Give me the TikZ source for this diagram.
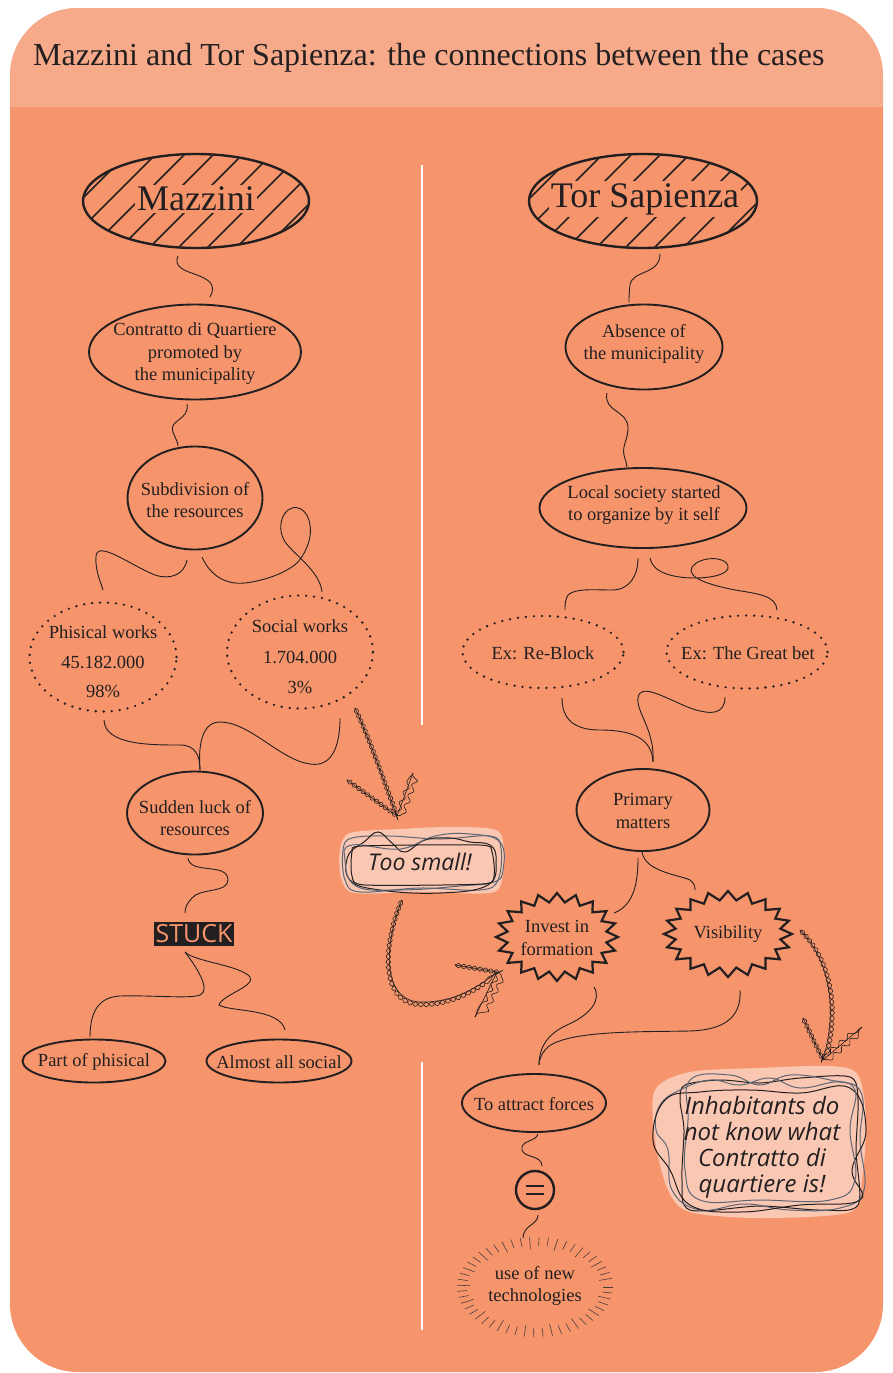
\documentclass[tikz,border=0pt]{standalone}
\usepackage{fontspec}
\setmainfont{Liberation Serif}
\newfontfamily\stuckfont{Open Sans}
\newfontfamily\handfont{Open Sans}
\usetikzlibrary{shapes.geometric,calc,decorations.pathmorphing}
\definecolor{bgmain}{RGB}{246,149,108}
\definecolor{bghead}{RGB}{247,170,138}
\definecolor{ink}{RGB}{35,31,32}
\definecolor{blob}{RGB}{251,205,186}
\definecolor{scrib}{RGB}{92,102,116}
\definecolor{tickc}{RGB}{75,62,60}
\tikzset{
 ell/.style 2 args={ellipse, draw=ink, line width=1.9pt, minimum width=#1, minimum height=#2, inner sep=0pt},
 dotell/.style 2 args={ellipse, draw=ink, line width=2.6pt, dash pattern=on 0pt off 8pt, line cap=round, minimum width=#1, minimum height=#2, inner sep=0pt},
 hatchell/.style 2 args={ellipse, draw=ink, line width=2.4pt, minimum width=#1, minimum height=#2, inner sep=0pt},
 shapeonly/.style 2 args={ellipse, minimum width=#1, minimum height=#2, inner sep=0pt},
 txt/.style={font=\fontsize{18.5}{22.5}\selectfont, align=center, text=ink, inner sep=0pt},
 bigtxt/.style={font=\fontsize{36}{40}\selectfont, text=ink, fill=bgmain, inner sep=2pt},
 conn/.style={draw=ink, line width=0.9pt},
 starline/.style={draw=ink, line width=2.2pt, line join=miter},
 hatchline/.style={draw=ink, line width=1.5pt},
 rope/.style={draw=ink, line width=0.6pt,
   postaction={draw=ink, line width=0.6pt, decorate, decoration={snake, amplitude=2.2pt, segment length=11pt}},
   postaction={draw=ink, line width=0.6pt, decorate, decoration={snake, amplitude=2.2pt, segment length=11pt, mirror}}},
 handtxt/.style={font=\handfont\itshape\fontsize{23}{26}\selectfont, text=ink, align=center, inner sep=0pt},
 scribdark/.style={draw=ink, line width=1pt},
 scribgray/.style={draw=scrib, line width=1pt},
 raytick/.style={draw=tickc, line width=0.6pt},
}
\begin{document}
\begin{tikzpicture}[x=1pt,y=-1pt]
\useasboundingbox (0,0) rectangle (893,1373);
\fill[white] (0,0) rectangle (893,1373);
\fill[bgmain, rounded corners=68pt] (10,8) rectangle (883,1372);
\begin{scope}
 \clip[rounded corners=68pt] (10,8) rectangle (883,1372);
 \fill[bghead] (10,8) rectangle (883,107);
\end{scope}
\node[anchor=base west, font=\fontsize{32}{38}\selectfont, text=ink, inner sep=0pt] (title) at (33,65) {Mazzini and Tor Sapienza: the connections between the cases};
% dividers
\draw[white, line width=2.5pt] (422,165) -- (422,725);
\draw[white, line width=2.5pt] (422,1062) -- (422,1330);

% hatched ellipses
\node[hatchell={226pt}{94pt}] (mz) at (196,201) {};
\begin{scope}
 \clip (196,201) ellipse [x radius=112, y radius=46];
 \foreach \k in {-6,...,6} \draw[hatchline] ($(mz.center)+(\k*29-70,70)$) -- ++(140,-140);
\end{scope}
\node[bigtxt] (mzt) at (196,199) {Mazzini};

\node[hatchell={228pt}{94pt}] (ts) at (643,201) {};
\begin{scope}
 \clip (643,201) ellipse [x radius=113, y radius=46];
 \foreach \k in {-6,...,6} \draw[hatchline] ($(ts.center)+(\k*29-70,70)$) -- ++(140,-140);
\end{scope}
\node[bigtxt] (tst) at (645,199) {Tor Sapienza};

% left column
\node[ell={212pt}{95pt}] (con) at (195,352) {};
\node[txt] (con-t) at (195,354) {Contratto di Quartiere\\promoted by\\the municipality};
\node[ell={135pt}{103pt}] (sub) at (195,498) {};
\node[txt] (sub-t) at (195,500) {Subdivision of\\the resources};
\node[dotell={147pt}{109pt}] (phy) at (103,657) {};
\node[txt, font=\fontsize{18.5}{29.5}\selectfont] (phy-t) at (103,662) {Phisical works\\45.182.000\\98\%};
\node[dotell={146pt}{113pt}] (soc) at (300,652) {};
\node[txt, font=\fontsize{18.5}{30.5}\selectfont] (soc-t) at (300,657) {Social works\\1.704.000\\3\%};
\node[ell={136pt}{83pt}] (sud) at (195,813) {};
\node[txt] (sud-t) at (195,818) {Sudden luck of\\resources};
\node[fill=ink, text=bgmain, font=\stuckfont\fontsize{25}{25}\selectfont, inner xsep=2pt, inner ysep=3pt] (stuck) at (194,934) {STUCK};
\node[ell={143pt}{43pt}] (part) at (94,1061) {};
\node[txt] (part-t) at (94,1062) {Part of phisical};
\node[ell={145pt}{43pt}] (alm) at (279,1061) {};
\node[txt] (alm-t) at (279,1062) {Almost all social};

% right column
\node[ell={157pt}{85pt}] (abs) at (644,347) {};
\node[txt] (abs-t) at (644,344) {Absence of\\the municipality};
\node[ell={207pt}{80pt}] (loc) at (643,508) {};
\node[txt] (loc-t) at (644,505) {Local society started\\to organize by it self};
\node[dotell={161pt}{72pt}] (reb) at (543,652) {};
\node[txt] (reb-t) at (543,653) {Ex: Re-Block};
\node[dotell={161pt}{73pt}] (gb) at (747,652) {};
\node[txt] (gb-t) at (748,653) {Ex: The Great bet};
\node[ell={133pt}{82pt}] (prim) at (643,810) {};
\node[txt] (prim-t) at (643,811) {Primary\\matters};

\node[shapeonly={122pt}{88pt}] (inv) at (557,937) {};
\begin{scope}[shift={(inv.center)}]
 \draw[starline] (0:61 and 44) \foreach \a in {0,18,...,342} { -- (\a+9:50 and 35) -- (\a+18:61 and 44) } -- cycle;
\end{scope}
\node[txt] (inv-t) at (557,938) {Invest in\\formation};
\node[shapeonly={128pt}{86pt}] (vis) at (728,934) {};
\begin{scope}[shift={(vis.center)}]
 \draw[starline] (0:64 and 43) \foreach \a in {0,18,...,342} { -- (\a+9:53 and 34) -- (\a+18:64 and 43) } -- cycle;
\end{scope}
\node[txt] (vis-t) at (728,934) {Visibility};

\node[ell={144pt}{58pt}] (att) at (534,1103) {};
\node[txt] (att-t) at (534,1104) {To attract forces};
\node[circle, draw=ink, line width=2.4pt, minimum size=38pt, inner sep=0pt] (eq) at (535,1190) {};
\draw[ink, line width=2.4pt] ($(eq.center)+(-9,-4)$) -- ($(eq.center)+(9,-4)$);
\draw[ink, line width=2.4pt] ($(eq.center)+(-9,4)$) -- ($(eq.center)+(9,4)$);
\node[shapeonly={156pt}{100pt}] (use) at (535,1287) {};
\begin{scope}[shift={(use.center)}]
 \foreach \a [count=\i] in {0,7,...,356} {
   \pgfmathsetmacro{\rinx}{ifthenelse(mod(\i,3)==0,65,68)}
   \pgfmathsetmacro{\riny}{\rinx-27}
   \draw[raytick] (\a:{\rinx} and {\riny}) -- (\a:78 and 50);
 }
\end{scope}
\node[txt] (use-t) at (535,1286) {use of new\\technologies};

% connectors left
\draw[conn] ($(mz.center)+(-18,55)$) .. controls (168,278) and (225,270) .. ($(con.center)+(15,-55)$);
\draw[conn] ($(con.center)+(-8,52)$) .. controls (190,420) and (168,420) .. (173,432) .. controls (176,440) and (178,442) .. ($(sub.center)+(-17,-52)$);
\draw[conn] ($(sub.center)+(-8,62)$) .. controls (184,575) and (170,580) .. (155,575) .. controls (130,565) and (98,540) .. (96,556) .. controls (95,570) and (100,580) .. ($(phy.center)+(0,-67)$);
\draw[conn] ($(sub.center)+(7,59)$) .. controls (210,575) and (225,585) .. (245,583) .. controls (270,580) and (290,570) .. (298,562) .. controls (308,550) and (312,535) .. (310,525) .. controls (308,510) and (298,506) .. (292,508) .. controls (280,512) and (278,530) .. (284,540) .. controls (290,552) and (320,570) .. ($(soc.center)+(22,-60)$);
\draw[conn] ($(phy.center)+(1,63)$) .. controls (105,745) and (150,745) .. (180,745) .. controls (195,745) and (200,755) .. ($(sud.center)+(5,-43)$);
\draw[conn] ($(soc.center)+(40,66)$) .. controls (340,740) and (335,768) .. (310,764) .. controls (280,760) and (250,722) .. (220,722) .. controls (202,722) and (198,745) .. ($(sud.center)+(5,-43)$);
\draw[conn] ($(sud.center)+(-7,45)$) .. controls (190,875) and (228,862) .. (228,880) .. controls (228,893) and (200,888) .. (192,898) .. controls (187,903) and (185,908) .. ($(stuck.center)+(-9,-21)$);
\draw[conn] ($(stuck.center)+(-9,18)$) .. controls (195,965) and (212,990) .. (200,995) .. controls (190,999) and (150,995) .. (120,996) .. controls (100,997) and (90,1010) .. ($(part.center)+(-4,-24)$);
\draw[conn] ($(stuck.center)+(-9,18)$) .. controls (195,962) and (240,965) .. (250,977) .. controls (256,986) and (222,995) .. (219,1005) .. controls (230,1012) and (280,1008) .. ($(alm.center)+(6,-31)$);

% connectors right
\draw[conn] ($(ts.center)+(17,53)$) .. controls (660,275) and (632,270) .. (630,285) .. controls (629,293) and (629,298) .. ($(abs.center)+(-15,-45)$);
\draw[conn] ($(abs.center)+(-37,46)$) .. controls (603,412) and (628,410) .. (628,428) .. controls (628,440) and (622,445) .. (624,455) .. controls (625,460) and (627,463) .. ($(loc.center)+(-16,-41)$);
\draw[conn] ($(loc.center)+(-5,50)$) .. controls (638,575) and (630,590) .. (612,590) .. controls (595,590) and (575,588) .. (568,595) .. controls (565,600) and (565,605) .. ($(reb.center)+(22,-42)$);
\draw[conn] ($(loc.center)+(7,50)$) .. controls (652,572) and (672,578) .. (695,578) .. controls (712,578) and (730,574) .. (728,566) .. controls (726,556) and (700,556) .. (692,567) .. controls (686,578) and (710,585) .. (735,590) .. controls (760,594) and (776,596) .. ($(gb.center)+(30,-42)$);
\draw[conn] ($(reb.center)+(19,46)$) .. controls (562,720) and (575,730) .. (600,730) .. controls (635,730) and (652,740) .. ($(prim.center)+(10,-48)$);
\draw[conn] ($(gb.center)+(-22,45)$) .. controls (725,715) and (710,715) .. (690,708) .. controls (665,698) and (640,682) .. (638,698) .. controls (636,712) and (655,730) .. ($(prim.center)+(10,-48)$);
\draw[conn] ($(prim.center)+(-5,48)$) .. controls (638,880) and (635,905) .. ($(inv.center)+(57,-24)$);
\draw[conn] ($(prim.center)+(-1,42)$) .. controls (645,872) and (680,875) .. (690,880) .. controls (694,883) and (695,886) .. ($(vis.center)+(-33,-44)$);
\draw[conn] ($(inv.center)+(37,50)$) .. controls (602,1000) and (590,1015) .. (567,1025) .. controls (545,1035) and (539,1050) .. ($(att.center)+(5,-38)$);
\draw[conn] ($(vis.center)+(12,56)$) .. controls (742,1020) and (720,1030) .. (690,1031) .. controls (640,1032) and (560,1030) .. (545,1050) .. controls (541,1055) and (539,1060) .. ($(att.center)+(5,-38)$);
\draw[conn] ($(att.center)+(4,31)$) .. controls (536,1142) and (520,1140) .. (522,1150) .. controls (524,1158) and (542,1155) .. ($(eq.center)+(7,-24)$);
\draw[conn] ($(eq.center)+(3,25)$) .. controls (538,1225) and (523,1225) .. ($(use.center)+(-12,-49)$);

% Too small box
\fill[blob, opacity=0.9] plot[smooth cycle] coordinates {(340,850) (350,833) (400,829) (450,827) (496,830) (504,850) (502,880) (490,893) (420,892) (355,893) (341,878)};
\draw[scribgray] plot[smooth cycle, tension=0.6] coordinates {(343,850) (352,838) (390,836) (440,839) (490,836) (501,848) (498,880) (480,890) (420,888) (360,892) (345,880)};
\draw[scribdark] plot[smooth cycle, tension=0.7] coordinates {(348,856) (364,842) (378,832) (392,843) (405,852) (425,840) (450,838) (470,842) (490,845) (496,860) (488,885) (440,893) (380,890) (350,880)};
\draw[scribgray] plot[smooth cycle, tension=0.7] coordinates {(345,860) (352,845) (400,849) (435,836) (470,834) (500,842) (503,870) (494,882) (460,886) (400,890) (356,886)};
\draw[scribdark] plot[smooth cycle, tension=0.4] coordinates {(352,852) (362,846) (480,845) (492,852) (494,876) (482,884) (365,885) (352,876)};
\node[handtxt] (small) at (420,862) {Too small!};

% Inhabitants box
\fill[blob, opacity=0.9] plot[smooth cycle] coordinates {(655,1090) (690,1072) (760,1068) (830,1066) (858,1075) (866,1120) (862,1180) (850,1212) (760,1218) (690,1212) (668,1190) (655,1140)};
\draw[scribdark] plot[smooth cycle, tension=0.5] coordinates {(685,1085) (720,1080) (760,1083) (800,1078) (850,1077) (858,1100) (856,1150) (858,1205) (820,1210) (760,1206) (690,1210) (682,1180) (684,1130) (680,1100)};
\draw[scribgray] plot[smooth cycle, tension=0.7] coordinates {(660,1105) (680,1090) (710,1080) (740,1085) (770,1078) (800,1088) (840,1082) (862,1095) (860,1140) (864,1190) (840,1208) (790,1210) (745,1204) (700,1210) (672,1190) (668,1150) (656,1130)};
\draw[scribdark] plot[smooth cycle, tension=0.7] coordinates {(665,1100) (700,1092) (750,1090) (800,1093) (850,1088) (866,1130) (852,1170) (860,1200) (800,1205) (740,1212) (690,1205) (670,1170) (653,1140)};
\draw[scribgray] plot[smooth cycle, tension=0.7] coordinates {(690,1080) (730,1075) (760,1085) (790,1075) (830,1080) (855,1090) (850,1130) (855,1180) (830,1200) (760,1200) (700,1200) (685,1170) (688,1120)};
\node[handtxt, font=\handfont\itshape\fontsize{24}{26}\selectfont] (inh) at (762,1147) {Inhabitants do\\not know what\\Contratto di\\quartiere is!};

% sketchy arrows
\coordinate (a1s) at ($(soc.center)+(55,56)$);
\coordinate (a1t) at ($(small.center)+(-23,-46)$);
\coordinate (a1l) at (347,780);
\coordinate (a1r) at (413,773);
\draw[rope] (a1s) .. controls (372,745) and (385,785) .. (a1t);
\draw[rope] (a1l) -- (a1t) -- (a1r);

\coordinate (a2s) at ($(small.center)+(-18,38)$);
\coordinate (a2t) at ($(inv.center)+(-60,35)$);
\coordinate (a2l) at (455,965);
\coordinate (a2r) at (475,1017);
\draw[rope] (a2s) .. controls (385,940) and (380,1000) .. (420,1002) .. controls (450,1003) and (475,990) .. (a2t);
\draw[rope] (a2l) -- (a2t) -- (a2r);

\coordinate (a3s) at ($(vis.center)+(72,-4)$);
\coordinate (a3t) at ($(inh.center)+(61,-87)$);
\coordinate (a3l) at (803,1018);
\coordinate (a3r) at (862,1027);
\draw[rope] (a3s) .. controls (825,955) and (840,1000) .. (a3t);
\draw[rope] (a3l) -- (a3t) -- (a3r);
\end{tikzpicture}
\end{document}
